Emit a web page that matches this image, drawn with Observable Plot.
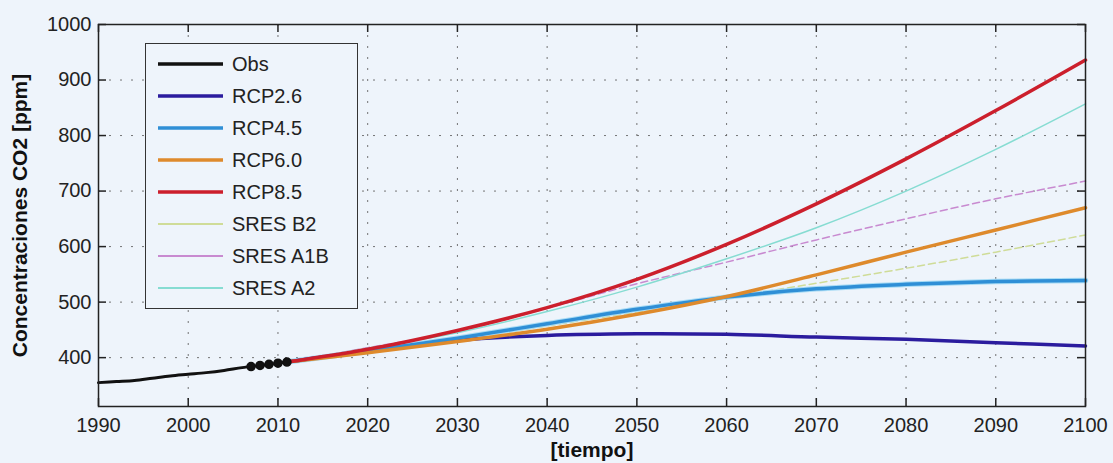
<!DOCTYPE html>
<html>
<head>
<meta charset="utf-8">
<script src="https://cdn.jsdelivr.net/npm/d3@7"></script>
<script src="https://cdn.jsdelivr.net/npm/@observablehq/plot@0.6"></script>
<style>
  html, body { margin: 0; padding: 0; background: #eef4fb; }
  #wrap { position: relative; width: 1113px; height: 463px; font-family: "Liberation Sans", Arial, sans-serif; }
  #wrap > svg { position: absolute; left: 0; top: 0; }
  svg [aria-label="y-axis label"], svg [aria-label="x-axis label"] { font-weight: bold; font-size: 21px; fill: #111; }
  #legend { position: absolute; left: 145px; top: 43px; width: 211px; padding: 4px 0; border: 1.5px solid #333; background: #eef4fb; box-sizing: content-box; }
  .row { height: 32px; display: flex; align-items: center; font-size: 20px; color: #222; }
  .row svg { display: block; margin-left: 12px; margin-right: 9px; }
</style>
</head>
<body>
<div id="wrap"></div>
<script>
// ---- data ----
const obsYears  = [1990, 1992, 1994, 1996, 1998, 2000, 2002, 2004, 2006, 2008, 2010, 2011];
const obsValues = [355, 357, 359, 363, 367, 370, 373, 377, 382, 386, 390, 392];
const obsMarkerYears  = [2007, 2008, 2009, 2010, 2011];
const obsMarkerValues = [384, 386, 388, 390, 392];

const projYears = [2011, 2020, 2030, 2040, 2050, 2060, 2070, 2080, 2090, 2100];
const rcp26  = [392, 412, 431, 440, 443, 442, 437, 433, 427, 421];
const rcp45  = [392, 412, 435, 461, 487, 509, 524, 532, 537, 539];
const rcp60  = [392, 409, 429, 451, 478, 510, 549, 590, 630, 670];
const rcp85  = [392, 415, 449, 490, 541, 604, 677, 758, 845, 936];
const sresB2 = [392, 410, 432, 457, 482, 508, 534, 561, 590, 621];
const sresA1B= [392, 418, 447, 489, 533, 572, 612, 650, 686, 718];
const sresA2 = [392, 417, 445, 483, 527, 578, 634, 700, 775, 857];

const seriesNames = ["Obs", "RCP2.6", "RCP4.5", "RCP6.0", "RCP8.5", "SRES B2", "SRES A1B", "SRES A2"];
const seriesColors = ["#111111", "#2b1c9e", "#2f8fd6", "#de8a2c", "#cc1f2c", "#cfdc98", "#c88ad0", "#86dcd2"];
const seriesWidths = [3, 3.5, 3.5, 3.5, 3.5, 1.5, 1.5, 1.5];
const seriesDash   = [null, null, null, null, null, "7,4", "7,4", null];

const xTicks = [1990, 2000, 2010, 2020, 2030, 2040, 2050, 2060, 2070, 2080, 2090, 2100];
const yTicks = [400, 500, 600, 700, 800, 900, 1000];
const yDomain = [312, 1000];
const xDomain = [1990, 2100];

// ---- build tables ----
const projValues = {"RCP2.6": rcp26, "RCP4.5": rcp45, "RCP6.0": rcp60, "RCP8.5": rcp85,
                    "SRES B2": sresB2, "SRES A1B": sresA1B, "SRES A2": sresA2};
const rows = name => projYears.map((y, i) => ({year: y, value: projValues[name][i], series: name}));
const obs = obsYears.map((y, i) => ({year: y, value: obsValues[i]}));
const obsMarks = obsMarkerYears.map((y, i) => ({year: y, value: obsMarkerValues[i]}));
const style = name => {
  const k = seriesNames.indexOf(name);
  return {stroke: seriesColors[k], strokeWidth: seriesWidths[k], strokeDasharray: seriesDash[k] || undefined};
};

const W = 1113, H = 463, mL = 98, mR = 28, mT = 24, mB = 57;
const pw = W - mL - mR, ph = H - mT - mB, tk = 8;

const lineMark = name => Plot.line(rows(name), {x: "year", y: "value", curve: "catmull-rom", ...style(name)});

const chart = Plot.plot({
  width: W, height: H,
  marginLeft: mL, marginRight: mR, marginTop: mT, marginBottom: mB,
  style: {background: "transparent", fontFamily: "'Liberation Sans', Arial, sans-serif", fontSize: "20px", color: "#222"},
  x: {domain: xDomain},
  y: {domain: yDomain},
  marks: [
    Plot.gridX(xTicks, {stroke: "#666", strokeOpacity: 0.9, strokeDasharray: "2,9", strokeWidth: 1}),
    Plot.gridY(yTicks, {stroke: "#666", strokeOpacity: 0.9, strokeDasharray: "2,9", strokeWidth: 1}),
    // inward ticks (MATLAB style)
    Plot.tickX(xTicks, {x: d => d, insetTop: ph - tk, stroke: "#222", strokeWidth: 1.5}),
    Plot.tickX(xTicks, {x: d => d, insetBottom: ph - tk, stroke: "#222", strokeWidth: 1.5}),
    Plot.tickY(yTicks, {y: d => d, insetRight: pw - tk, stroke: "#222", strokeWidth: 1.5}),
    Plot.tickY(yTicks, {y: d => d, insetLeft: pw - tk, stroke: "#222", strokeWidth: 1.5}),
    Plot.axisX({ticks: xTicks, tickSize: 0, tickPadding: 11, tickFormat: d => String(d),
                label: "[tiempo]", labelArrow: "none", labelAnchor: "center", labelOffset: 50, fill: "#222"}),
    Plot.axisY({ticks: yTicks, tickSize: 0, tickPadding: 7, tickFormat: d => String(d),
                label: "Concentraciones CO2 [ppm]", labelArrow: "none", labelAnchor: "center", labelOffset: 86, fill: "#222"}),
    lineMark("SRES B2"),
    lineMark("SRES A1B"),
    lineMark("SRES A2"),
    Plot.line(rows("RCP4.5"), {x: "year", y: "value", curve: "catmull-rom", stroke: "#a9dcf5", strokeWidth: 5.5}),
    lineMark("RCP2.6"),
    lineMark("RCP4.5"),
    lineMark("RCP6.0"),
    lineMark("RCP8.5"),
    Plot.line(obs, {x: "year", y: "value", curve: "catmull-rom", ...style("Obs")}),
    Plot.dot(obsMarks, {x: "year", y: "value", r: 4, fill: "#111", stroke: "#111"}),
    Plot.frame({stroke: "#222", strokeWidth: 1.5})
  ]
});

const wrap = document.getElementById("wrap");
wrap.appendChild(chart);

// strip any arrow glyph Plot may add to axis labels
chart.querySelectorAll('[aria-label$="axis label"] text, [aria-label$="axis label"] tspan').forEach(t => {
  if (t.firstChild && t.firstChild.nodeType === 3) t.firstChild.nodeValue = t.firstChild.nodeValue.replace(/[\u2190-\u2193]\s*|\s*[\u2190-\u2193]/g, "");
});

// ---- legend ----
const legend = document.createElement("div");
legend.id = "legend";
seriesNames.forEach((name, k) => {
  const row = document.createElement("div");
  row.className = "row";
  row.innerHTML = `<svg width="65" height="8"><line x1="0" x2="65" y1="4" y2="4" stroke="${seriesColors[k]}" stroke-width="${seriesWidths[k] >= 3 ? 3.5 : 2}"/></svg><span>${name}</span>`;
  legend.appendChild(row);
});
wrap.appendChild(legend);
</script>
</body>
</html>
